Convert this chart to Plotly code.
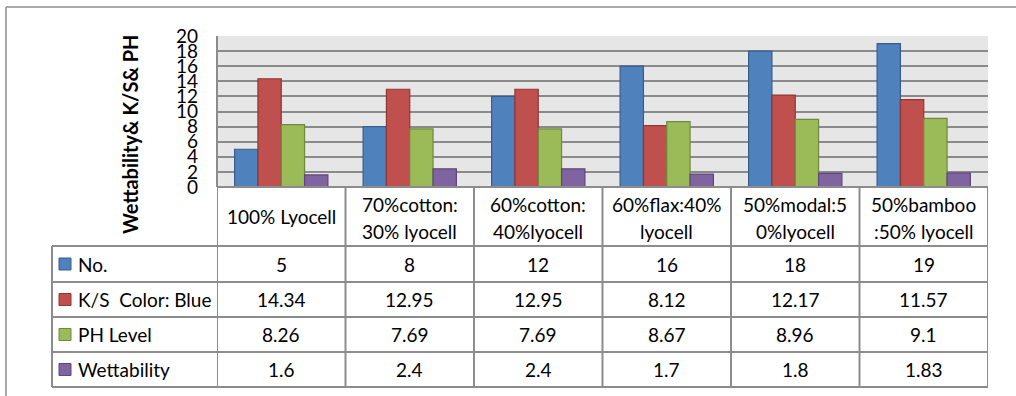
import plotly.graph_objects as go

# ---- data ----
categories = ["100% Lyocell", "70%cotton:<br>30% lyocell", "60%cotton:<br>40%lyocell",
              "60%flax:40%<br>lyocell", "50%modal:5<br>0%lyocell", "50%bamboo<br>:50% lyocell"]
series_names = ["No.", "K/S\u00a0 Color: Blue", "PH Level", "Wettability"]
no_values = [5, 8, 12, 16, 18, 19]
ks_values = [14.34, 12.95, 12.95, 8.12, 12.17, 11.57]
ph_values = [8.26, 7.69, 7.69, 8.67, 8.96, 9.1]
wet_values = [1.6, 2.4, 2.4, 1.7, 1.8, 1.83]
y_ticks = list(range(0, 21, 2))

fills = ["#4F81BD", "#C0504D", "#9BBB59", "#8064A2"]
edges = ["#385D8A", "#8C3836", "#71893F", "#5C4776"]
series_values = [no_values, ks_values, ph_values, wet_values]

W, H = 1016, 396
FONT = "Lato"
FS = 19
GRID = "#8A8A8A"
LINE = "#8C8C8C"


def px(x):
    return x / W


def py(y):
    return 1 - y / H


# plot area and table geometry (pixels)
PX0, PX1, PY0, PY1 = 217, 988, 36, 187
TAB_X0 = 52
HEADER_BOTTOM = 246
ROW_EDGES = [246, 282, 317, 352, 387]

xs = list(range(len(categories)))

fig = go.Figure()
for name, vals, fc, ec in zip(series_names, series_values, fills, edges):
    fig.add_trace(go.Bar(
        x=xs, y=vals, name=name,
        marker=dict(color=fc, line=dict(color=ec, width=1.2)),
        showlegend=False,
    ))

shapes = []
annotations = []

# outer chart frame
shapes.append(dict(type="line", xref="paper", yref="paper",
                   x0=px(6), x1=px(1020), y0=py(7), y1=py(7),
                   line=dict(color="#8E8E8E", width=1.5)))
shapes.append(dict(type="line", xref="paper", yref="paper",
                   x0=px(6), x1=px(6), y0=py(7), y1=py(400),
                   line=dict(color="#8E8E8E", width=1.5)))

# table horizontal lines
for y in ROW_EDGES:
    shapes.append(dict(type="line", xref="paper", yref="paper",
                       x0=px(TAB_X0), x1=px(PX1), y0=py(y), y1=py(y),
                       line=dict(color=LINE, width=2)))
shapes.append(dict(type="line", xref="paper", yref="paper",
                   x0=px(PX0), x1=px(PX1), y0=py(PY1), y1=py(PY1),
                   line=dict(color=LINE, width=2)))
# table vertical lines
shapes.append(dict(type="line", xref="paper", yref="paper",
                   x0=px(TAB_X0), x1=px(TAB_X0), y0=py(ROW_EDGES[0]), y1=py(ROW_EDGES[-1]),
                   line=dict(color=LINE, width=2)))
for k in range(len(categories) + 1):
    xb = k - 0.5
    shapes.append(dict(type="line", xref="x", yref="paper",
                       x0=xb, x1=xb, y0=py(PY1), y1=py(ROW_EDGES[-1]),
                       line=dict(color=LINE, width=2)))
shapes.append(dict(type="line", xref="paper", yref="paper",
                   x0=px(PX0), x1=px(PX0), y0=py(PY0), y1=py(PY1),
                   line=dict(color=LINE, width=2)))

# category header labels
for i, cat in enumerate(categories):
    parts = cat.split("<br>")
    if len(parts) == 1:
        ys = [(PY1 + HEADER_BOTTOM) / 2]
    else:
        ys = [205, 231]
    for part, yy in zip(parts, ys):
        annotations.append(dict(x=i, y=py(yy), xref="x", yref="paper", text=part,
                                showarrow=False, xanchor="center", yanchor="middle",
                                font=dict(family=FONT, size=FS, color="#000000")))

# data rows: legend key, series name, values
for r, (name, vals, fc, ec) in enumerate(zip(series_names, series_values, fills, edges)):
    yc = (ROW_EDGES[r] + ROW_EDGES[r + 1]) / 2
    shapes.append(dict(type="rect", xref="paper", yref="paper",
                       x0=px(59), x1=px(71), y0=py(yc - 6), y1=py(yc + 6),
                       fillcolor=fc, line=dict(color=ec, width=1)))
    annotations.append(dict(x=px(76), y=py(yc), xref="paper", yref="paper", text=name,
                            showarrow=False, xanchor="left", yanchor="middle",
                            font=dict(family=FONT, size=FS, color="#000000")))
    for i, v in enumerate(vals):
        annotations.append(dict(x=i, y=py(yc), xref="x", yref="paper", text=f"{v:g}",
                                showarrow=False, xanchor="center", yanchor="middle",
                                font=dict(family=FONT, size=FS, color="#000000")))

# y-axis title
annotations.append(dict(x=px(130), y=py(134), xref="paper", yref="paper",
                        text="<b>Wettability& K/S& PH</b>", textangle=-90,
                        showarrow=False, xanchor="center", yanchor="middle",
                        font=dict(family=FONT, size=20, color="#000000")))

fig.update_layout(
    width=W, height=H,
    margin=dict(l=0, r=0, t=0, b=0, autoexpand=False),
    paper_bgcolor="#FFFFFF",
    plot_bgcolor="#E6E6E6",
    barmode="group",
    bargap=0.274,
    bargroupgap=0,
    shapes=shapes,
    annotations=annotations,
    xaxis=dict(domain=[px(PX0), px(PX1)], range=[-0.5, len(categories) - 0.5],
               showticklabels=False, showgrid=False, zeroline=False, showline=False,
               automargin=False),
    yaxis=dict(domain=[py(PY1), py(PY0)], range=[0, 20], tickvals=y_ticks,
               showgrid=True, gridcolor=GRID, gridwidth=2, zeroline=False,
               showline=False, ticks="", ticklabelstandoff=18, automargin=False,
               tickfont=dict(family=FONT, size=FS, color="#000000")),
)

fig.write_html("out.html")
